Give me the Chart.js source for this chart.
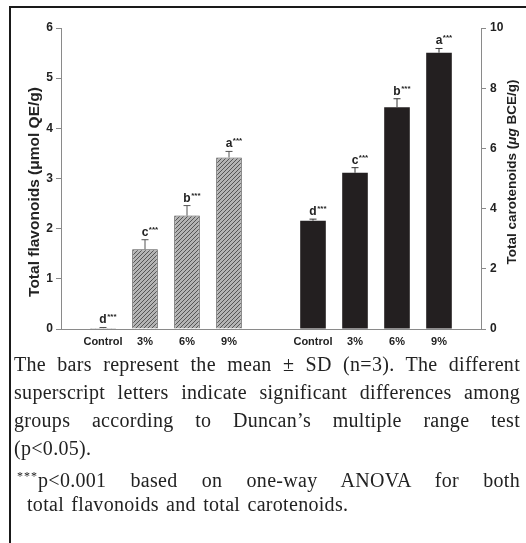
<!DOCTYPE html>
<html><head><meta charset="utf-8">
<script src="https://cdn.jsdelivr.net/npm/chart.js@4.4.1/dist/chart.umd.min.js"></script>
<style>
html,body{margin:0;padding:0;background:#fff;}
body{width:526px;height:543px;position:relative;overflow:hidden;}
#wrap{position:absolute;left:0;top:0;width:526px;height:352px;}
.topline{position:absolute;left:9px;top:6px;width:517px;height:2px;background:#1a1a1a;}
.leftline{position:absolute;left:9px;top:6px;width:2px;height:537px;background:#1a1a1a;}
#cap{position:absolute;left:14px;top:350px;width:506px;font-family:"Liberation Serif","Times New Roman",serif;font-size:20px;color:#222;letter-spacing:0.3px;word-spacing:2px;}
.ln{height:28px;line-height:28px;text-align:justify;text-align-last:justify;}
.left{text-align:left;text-align-last:left;}
.sup{font-size:12px;vertical-align:7px;letter-spacing:1px;word-spacing:0;}
</style></head>
<body>
<div class="topline"></div><div class="leftline"></div>
<div id="wrap"><canvas id="c" width="526" height="352"></canvas></div>
<div id="cap">
<div class="ln">The bars represent the mean ± SD (n=3). The different</div>
<div class="ln">superscript letters indicate significant differences among</div>
<div class="ln">groups according to Duncan’s multiple range test</div>
<div class="ln left">(p&lt;0.05).</div>
<div class="ln" style="margin-left:3px;"><span class="sup">***</span>p&lt;0.001 based on one-way ANOVA for both</div>
<div class="ln left" style="padding-left:13px;">total flavonoids and total carotenoids.</div>
</div>
<script>
// ---- data ----
const groupLabels = ['Control', '3%', '6%', '9%'];
const flavMeans = [0.02, 1.59, 2.26, 3.42];
const flavSD = [0.01, 0.19, 0.20, 0.12];
const caroMeans = [3.60, 5.19, 7.37, 9.18];
const caroSD = [0.05, 0.17, 0.28, 0.14];
const letters = ['d', 'c', 'b', 'a'];
const leftTicks = [0, 1, 2, 3, 4, 5, 6];
const rightTicks = [0, 2, 4, 6, 8, 10];

// category layout: empty slot, left group, gap slot, right group, empty slot
const labels = [''].concat(groupLabels, [''], groupLabels, ['']);
const pad4 = [null, null, null, null];
const flavData = [null].concat(flavMeans, [null], pad4, [null]);
const caroData = [null].concat(pad4, [null], caroMeans, [null]);
const flavErr = [null].concat(flavSD, [null], pad4, [null]);
const caroErr = [null].concat(pad4, [null], caroSD, [null]);
const letterData = [null].concat(letters, [null], letters, [null]);

// hatch pattern
const pc = document.createElement('canvas');
pc.width = 4; pc.height = 4;
const px = pc.getContext('2d');
px.fillStyle = '#b4b4b4'; px.fillRect(0, 0, 4, 4);
px.strokeStyle = '#555'; px.lineWidth = 1;
px.beginPath();
px.moveTo(-2, 2); px.lineTo(2, -2);
px.moveTo(0, 4); px.lineTo(4, 0);
px.moveTo(2, 6); px.lineTo(6, 2);
px.stroke();
const hatch = px.createPattern(pc, 'repeat');

const AXIS = '#8a8a8a';
const TXT = '#222';
const FONT = '"Liberation Sans", Arial, sans-serif';

const errPlugin = {
  id: 'err',
  afterDatasetsDraw(chart) {
    const ctx = chart.ctx;
    chart.data.datasets.forEach((ds, di) => {
      const meta = chart.getDatasetMeta(di);
      const yScale = chart.scales[ds.yAxisID];
      ds.data.forEach((v, i) => {
        if (v === null) return;
        const bar = meta.data[i];
        const sd = ds.errors[i];
        const yTop = yScale.getPixelForValue(v + sd);
        const yBar = yScale.getPixelForValue(v);
        ctx.save();
        ctx.strokeStyle = ds.errColor;
        ctx.lineWidth = 1;
        ctx.beginPath();
        ctx.moveTo(bar.x, yBar); ctx.lineTo(bar.x, yTop);
        ctx.moveTo(bar.x - 3.5, yTop); ctx.lineTo(bar.x + 3.5, yTop);
        ctx.stroke();
        // letters
        ctx.fillStyle = TXT;
        ctx.font = 'bold 12px ' + FONT;
        ctx.textAlign = 'center';
        ctx.textBaseline = 'alphabetic';
        const base = yTop - 4;
        ctx.fillText(letterData[i], bar.x, base);
        const lw = ctx.measureText(letterData[i]).width;
        ctx.font = 'bold 8px ' + FONT;
        ctx.textAlign = 'left';
        ctx.fillText('***', bar.x + lw / 2 + 0.5, base - 4);
        ctx.restore();
      });
    });
  },
  afterDraw(chart) {
    const ctx = chart.ctx;
    const drawRot = (cx, cy, parts) => {
      ctx.save();
      ctx.translate(cx, cy);
      ctx.rotate(-Math.PI / 2);
      ctx.fillStyle = TXT;
      ctx.textBaseline = 'middle';
      ctx.textAlign = 'left';
      let total = 0;
      parts.forEach(p => { ctx.font = p.f; p.w = ctx.measureText(p.t).width; total += p.w; });
      let x = -total / 2;
      parts.forEach(p => { ctx.font = p.f; ctx.fillText(p.t, x, 0); x += p.w; });
      ctx.restore();
    };
    const B = 'bold 15.5px ' + FONT;
    drawRot(35, 192, [{ t: 'Total flavonoids (\u03bcmol QE/g)', f: B }]);
    const B2 = 'bold 13.5px ' + FONT;
    const BI = 'italic bold 13.5px ' + FONT;
    drawRot(512, 172, [{ t: 'Total carotenoids (', f: B2 }, { t: '\u03bcg', f: BI }, { t: ' BCE/g)', f: B2 }]);
  }
};

new Chart(document.getElementById('c'), {
  type: 'bar',
  data: {
    labels: labels,
    datasets: [
      { data: flavData, errors: flavErr, yAxisID: 'y', backgroundColor: hatch, borderColor: '#505050', borderWidth: 1, errColor: '#555' },
      { data: caroData, errors: caroErr, yAxisID: 'y1', backgroundColor: '#231f20', borderWidth: 0, errColor: '#333' }
    ]
  },
  options: {
    responsive: false,
    animation: false,
    devicePixelRatio: 1,
    grouped: false,
    categoryPercentage: 1,
    barPercentage: 0.61,
    layout: { padding: { top: 28, left: 0, right: 0, bottom: 0 } },
    plugins: { legend: { display: false }, tooltip: { enabled: false } },
    scales: {
      x: {
        type: 'category',
        offset: false,
        grid: { display: false, drawTicks: false },
        border: { display: true, color: AXIS, width: 1 },
        ticks: { autoSkip: false, maxRotation: 0, minRotation: 0, padding: 6, color: TXT, font: { family: FONT, weight: 'bold', size: 11 } },
        afterFit(s) { s.height = 23; }
      },
      y: {
        position: 'left', min: 0, max: 6,
        afterBuildTicks(s) { s.ticks = leftTicks.map(v => ({ value: v })); },
        grid: { drawOnChartArea: false, drawTicks: true, tickLength: 5, color: AXIS },
        border: { display: true, color: AXIS, width: 1 },
        ticks: { padding: 3, color: TXT, font: { family: FONT, weight: 'bold', size: 12 } },
        afterFit(s) { s.width = 61; }
      },
      y1: {
        position: 'right', min: 0, max: 10,
        afterBuildTicks(s) { s.ticks = rightTicks.map(v => ({ value: v })); },
        grid: { drawOnChartArea: false, drawTicks: true, tickLength: 5, color: AXIS },
        border: { display: true, color: AXIS, width: 1 },
        ticks: { padding: 4, color: TXT, font: { family: FONT, weight: 'bold', size: 12 } },
        afterFit(s) { s.width = 45; }
      }
    }
  },
  plugins: [errPlugin]
});
</script>
</body></html>
